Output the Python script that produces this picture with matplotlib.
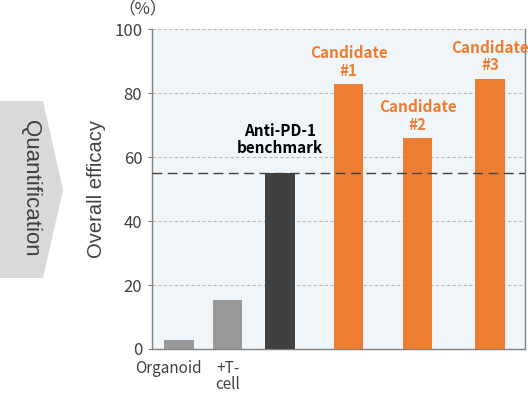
import numpy as np
import matplotlib.pyplot as plt
from matplotlib.patches import Polygon
from matplotlib.transforms import ScaledTranslation

plt.rcParams['font.family'] = ['Noto Sans CJK JP', 'DejaVu Sans']

# data
categories = ['Organoid', '+T-\ncell', 'Anti-PD-1\nbenchmark', 'Candidate\n#1', 'Candidate\n#2', 'Candidate\n#3']
positions = [0, 1, 2.07, 3.47, 4.89, 6.37]
values = [2.8, 15.3, 55.0, 82.8, 65.9, 84.4]
benchmark = 55.0
bar_colors = ['#989898', '#989898', '#404040', '#ED7D31', '#ED7D31', '#ED7D31']
label_colors = [None, None, '#000000', '#ED7D31', '#ED7D31', '#ED7D31']
label_offsets = [0, 0, 12, 4, 4, 4]

fig = plt.figure(figsize=(5.28, 3.93), dpi=100)
ax = fig.add_axes([0.288, 0.112, 0.706, 0.814])
ax.set_facecolor('#F0F5FA')

ax.bar(positions, values, width=0.6, color=bar_colors, zorder=3)
ax.axhline(benchmark, color='#404040', linestyle=(0, (7, 4)), linewidth=1.0, zorder=4)

for x, v, lab, c, off in zip(positions, values, categories, label_colors, label_offsets):
    if c is None:
        continue
    ax.annotate(lab, (x, v), xytext=(0, off), textcoords='offset points',
                ha='center', va='bottom', fontsize=11, fontweight='bold',
                color=c, linespacing=1.1, zorder=5)

ax.set_xlim(-0.55, 7.08)
ax.set_ylim(0, 100)
ax.set_yticks([0, 20, 40, 60, 80, 100])
ax.set_xticks(positions[:2])
ax.set_xticklabels(categories[:2], fontsize=11, color='#404040', linespacing=0.95)
ax.tick_params(axis='x', length=0, pad=8)
ax.tick_params(axis='y', length=3, color='#808080', labelsize=12, labelcolor='#404040', pad=4)
first = ax.get_xticklabels()[0]
first.set_transform(first.get_transform() + ScaledTranslation(-10 / 100, 0, fig.dpi_scale_trans))
ax.yaxis.grid(True, linestyle=(0, (3, 2)), color='#BBBBBB', linewidth=0.8, zorder=0)
ax.set_axisbelow(True)

ax.spines['top'].set_visible(False)
for s in ['left', 'bottom', 'right']:
    ax.spines[s].set_color('#808080')
    ax.spines[s].set_linewidth(1.0)

ax.set_ylabel('Overall efficacy', fontsize=14.5, color='#404040', labelpad=6,
              family=['Liberation Sans', 'DejaVu Sans'])
ax.text(-0.024, 1.0625, '（%）', transform=ax.transAxes, ha='center', va='center',
        fontsize=12, color='#404040')

# chevron on the left
pts = [(0, 101), (43, 101), (63, 190), (43, 278), (0, 278)]
chev = Polygon(np.array([[x / 528, 1 - y / 393] for x, y in pts]), closed=True,
               facecolor='#D9D9D9', edgecolor='none', transform=fig.transFigure)
fig.patches.append(chev)
fig.text(30 / 528, 1 - 188 / 393, 'Quantification', rotation=-90, ha='center', va='center',
         fontsize=16, color='#404040', family=['Liberation Sans', 'DejaVu Sans'])

fig.savefig('out.png', dpi=100)
